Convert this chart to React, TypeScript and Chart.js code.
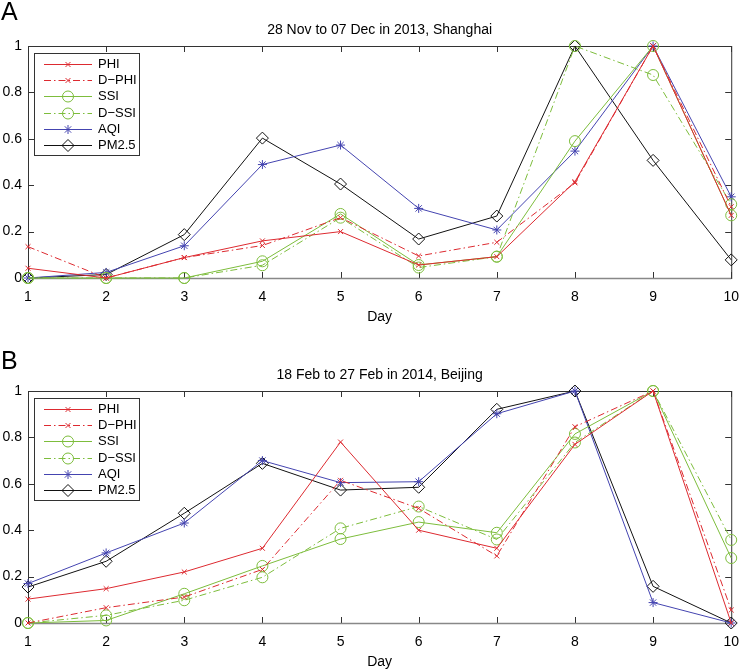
import React, { useEffect, useRef } from 'react';
import { Chart, registerables } from 'chart.js';
import { drawPoint } from 'chart.js/helpers';

Chart.register(...registerables);

const FONT = "'Liberation Sans', Arial, Helvetica, sans-serif";

// ---- data ----
const days = ['1', '2', '3', '4', '5', '6', '7', '8', '9', '10'];
const yTicks = [0, 0.2, 0.4, 0.6, 0.8, 1];
const seriesNames = ['PHI', 'D\u2212PHI', 'SSI', 'D\u2212SSI', 'AQI', 'PM2.5'];

const titleShanghai = '28 Nov to 07 Dec in 2013, Shanghai';
const shanghaiPHI = [0.042, 0, 0.088, 0.16, 0.2, 0.056, 0.092, 0.415, 1, 0.27];
const shanghaiDPHI = [0.135, 0, 0.088, 0.14, 0.26, 0.095, 0.154, 0.41, 1, 0.307];
const shanghaiSSI = [0, 0, 0, 0.072, 0.276, 0.056, 0.092, 0.59, 1, 0.27];
const shanghaiDSSI = [0, 0, 0, 0.055, 0.26, 0.045, 0.092, 1, 0.875, 0.318];
const shanghaiAQI = [0, 0.024, 0.139, 0.489, 0.573, 0.3, 0.207, 0.547, 1, 0.35];
const shanghaiPM25 = [0, 0.015, 0.187, 0.603, 0.405, 0.168, 0.267, 1, 0.507, 0.078];

const titleBeijing = '18 Feb to 27 Feb in 2014, Beijing';
const beijingPHI = [0.103, 0.148, 0.22, 0.322, 0.78, 0.4, 0.322, 0.77, 1, 0];
const beijingDPHI = [0, 0.066, 0.112, 0.231, 0.615, 0.494, 0.289, 0.846, 1, 0.056];
const beijingSSI = [0, 0.011, 0.126, 0.246, 0.362, 0.435, 0.389, 0.815, 1, 0.28];
const beijingDSSI = [0, 0.033, 0.098, 0.197, 0.408, 0.502, 0.36, 0.778, 1, 0.358];
const beijingAQI = [0.17, 0.302, 0.431, 0.7, 0.605, 0.609, 0.902, 1, 0.088, 0];
const beijingPM25 = [0.155, 0.266, 0.473, 0.688, 0.573, 0.585, 0.921, 1, 0.158, 0];

// ---- styles ----
const RED = '#dd2a30';
const GREEN = '#7dbd3c';
const BLUE = '#4444b0';
const BLACK = '#111111';
const DASHDOT = [7, 3, 1.5, 3];

const styles = [
  { color: RED, dash: [] as number[], point: 'crossRot', radius: 3.5 },
  { color: RED, dash: DASHDOT, point: 'crossRot', radius: 3.5 },
  { color: GREEN, dash: [] as number[], point: 'circle', radius: 5.5 },
  { color: GREEN, dash: DASHDOT, point: 'circle', radius: 5.5 },
  { color: BLUE, dash: [] as number[], point: 'star', radius: 4.5 },
  { color: BLACK, dash: [] as number[], point: 'rectRot', radius: 6 },
];

const framePlugin = {
  id: 'matFrame',
  beforeDatasetsDraw(chart: any) {
    const { ctx, chartArea } = chart;
    const { left, right, top, bottom } = chartArea;
    const xs = chart.scales.x;
    const ys = chart.scales.y;
    ctx.save();
    ctx.strokeStyle = '#333';
    ctx.lineWidth = 1;
    ctx.strokeRect(left + 0.5, top + 0.5, right - left, bottom - top);
    ctx.beginPath();
    const L = 6;
    days.forEach((_, i) => {
      const px = Math.round(xs.getPixelForValue(i)) + 0.5;
      ctx.moveTo(px, bottom);
      ctx.lineTo(px, bottom - L);
      ctx.moveTo(px, top);
      ctx.lineTo(px, top + L);
    });
    yTicks.forEach((v) => {
      const py = Math.round(ys.getPixelForValue(v)) + 0.5;
      ctx.moveTo(left, py);
      ctx.lineTo(left + L, py);
      ctx.moveTo(right, py);
      ctx.lineTo(right - L, py);
    });
    ctx.stroke();
    ctx.strokeStyle = '#888';
    ctx.lineWidth = 1.5;
    ctx.beginPath();
    ctx.moveTo(left, bottom + 0.5);
    ctx.lineTo(right, bottom + 0.5);
    ctx.stroke();
    ctx.restore();
  },
};

const legendPlugin = {
  id: 'matLegend',
  afterDatasetsDraw(chart: any) {
    const { ctx, chartArea } = chart;
    const x0 = chartArea.left + 6;
    const y0 = chartArea.top + 7;
    const w = 105;
    const h = 102;
    ctx.save();
    ctx.fillStyle = '#fff';
    ctx.fillRect(x0, y0, w, h);
    ctx.strokeStyle = '#333';
    ctx.lineWidth = 1;
    ctx.strokeRect(x0 + 0.5, y0 + 0.5, w, h);
    chart.data.datasets.forEach((ds: any, i: number) => {
      const y = Math.round(y0 + 11 + i * 16.2) + 0.5;
      ctx.beginPath();
      ctx.setLineDash(ds.borderDash || []);
      ctx.strokeStyle = ds.borderColor;
      ctx.lineWidth = 1;
      ctx.moveTo(x0 + 10, y);
      ctx.lineTo(x0 + 58, y);
      ctx.stroke();
      ctx.setLineDash([]);
      ctx.fillStyle = 'rgba(0,0,0,0)';
      drawPoint(ctx, { pointStyle: ds.pointStyle, radius: ds.pointRadius, borderWidth: 1, rotation: 0 } as any, x0 + 34, y);
      ctx.fillStyle = '#000';
      ctx.font = `13px ${FONT}`;
      ctx.textAlign = 'left';
      ctx.textBaseline = 'middle';
      ctx.fillText(ds.label, x0 + 64, y);
    });
    ctx.restore();
  },
};

const textPlugin = {
  id: 'matText',
  afterDraw(chart: any) {
    const { ctx, chartArea } = chart;
    const o = chart.options.plugins.matText;
    ctx.save();
    ctx.fillStyle = '#000';
    ctx.font = `14px ${FONT}`;
    ctx.textAlign = 'center';
    ctx.textBaseline = 'middle';
    ctx.fillText(o.title, (chartArea.left + chartArea.right) / 2, 30);
    ctx.font = `25px ${FONT}`;
    ctx.textAlign = 'left';
    ctx.textBaseline = 'alphabetic';
    ctx.fillText(o.letter, 1, o.letterBase);
    ctx.restore();
  },
};

function Panel(props: { top: number; letter: string; letterBase: number; title: string; values: number[][] }) {
  const ref = useRef<HTMLCanvasElement>(null);
  useEffect(() => {
    if (!ref.current) return;
    const chart = new Chart(ref.current, {
      type: 'line',
      data: {
        labels: days,
        datasets: props.values.map((vals, i) => ({
          label: seriesNames[i],
          data: vals,
          borderColor: styles[i].color,
          borderWidth: 1,
          borderDash: styles[i].dash,
          pointStyle: styles[i].point as any,
          pointRadius: styles[i].radius,
          pointBorderColor: styles[i].color,
          pointBackgroundColor: 'rgba(0,0,0,0)',
          pointBorderWidth: 1,
          tension: 0,
          fill: false,
          clip: false as any,
        })),
      },
      options: {
        animation: false,
        responsive: false,
        maintainAspectRatio: false,
        events: [],
        layout: { padding: { top: 46, right: 9, left: 0, bottom: 0 } },
        plugins: {
          legend: { display: false },
          tooltip: { enabled: false },
          title: { display: false },
          matText: { title: props.title, letter: props.letter, letterBase: props.letterBase },
        } as any,
        scales: {
          x: {
            type: 'category',
            offset: false,
            grid: { display: false, drawTicks: false },
            border: { display: false },
            ticks: { color: '#000', font: { family: FONT, size: 14 }, padding: 11, autoSkip: false, maxRotation: 0 },
            title: { display: true, text: 'Day', color: '#000', font: { family: FONT, size: 14 }, padding: { top: 0, bottom: 9 } },
            afterFit: (s: any) => {
              s.height = 57;
            },
          },
          y: {
            type: 'linear',
            min: 0,
            max: 1,
            afterBuildTicks: (s: any) => {
              s.ticks = yTicks.map((v) => ({ value: v }));
            },
            grid: { display: false, drawTicks: false },
            border: { display: false },
            ticks: { color: '#000', font: { family: FONT, size: 14 }, padding: 6, callback: (v: any) => String(v) },
            afterFit: (s: any) => {
              s.width = 28;
            },
          },
        },
      },
      plugins: [framePlugin, legendPlugin, textPlugin],
    });
    return () => chart.destroy();
  }, []);
  return (
    <canvas
      ref={ref}
      width={750}
      height={335}
      style={{ position: 'absolute', left: 0, top: props.top, width: 750, height: 335 }}
    />
  );
}

export default function App() {
  return (
    <div style={{ position: 'absolute', left: 0, top: 0, width: 750, height: 670, overflow: 'hidden', background: '#fff' }}>
      <Panel
        top={0}
        letter="A"
        letterBase={20}
        title={titleShanghai}
        values={[shanghaiPHI, shanghaiDPHI, shanghaiSSI, shanghaiDSSI, shanghaiAQI, shanghaiPM25]}
      />
      <Panel
        top={345}
        letter="B"
        letterBase={24}
        title={titleBeijing}
        values={[beijingPHI, beijingDPHI, beijingSSI, beijingDSSI, beijingAQI, beijingPM25]}
      />
    </div>
  );
}
